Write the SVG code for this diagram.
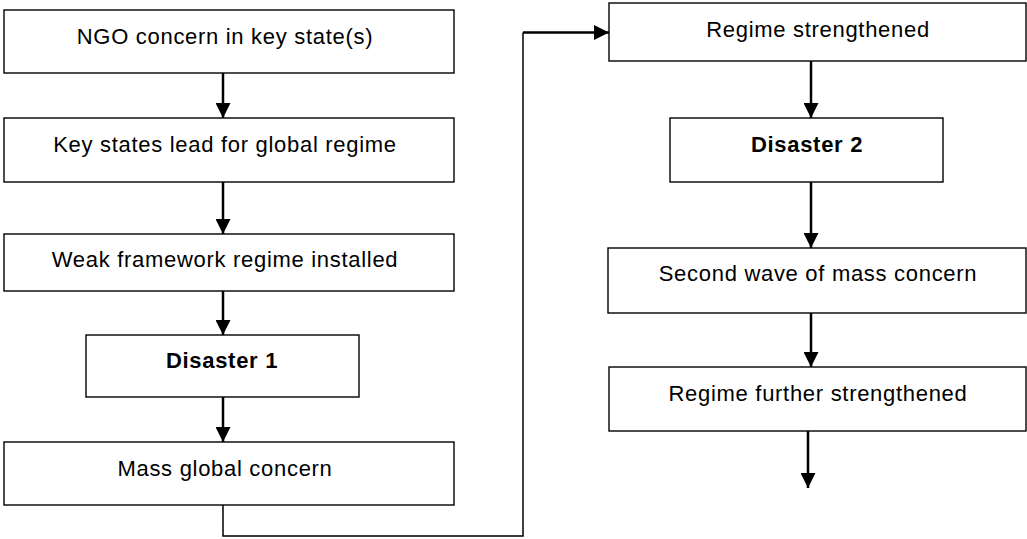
<svg xmlns="http://www.w3.org/2000/svg" width="1027" height="539" viewBox="0 0 1027 539">
<style>
.box{fill:#fff;stroke:#000;stroke-width:1.4}
.t{font-family:"Liberation Sans",Arial,sans-serif;font-size:22px;letter-spacing:0.7px;text-anchor:middle;fill:#000}
.b{font-weight:bold}
.c{fill:none;stroke:#000;stroke-width:2.5}
.thin{fill:none;stroke:#000;stroke-width:1.5}
</style>
<defs>
<marker id="ah" markerUnits="userSpaceOnUse" markerWidth="15" markerHeight="15" refX="15" refY="7.5" orient="auto">
<path d="M0,0 L15,7.5 L0,15 z" fill="#000"/>
</marker>
</defs>
<rect width="1027" height="539" fill="#fff"/>
<g id="n1"><rect class="box" x="4" y="10" width="450" height="63"/><text class="t" x="225" y="44">NGO concern in key state(s)</text></g>
<g id="n2"><rect class="box" x="4" y="118" width="450" height="64"/><text class="t" x="225" y="152">Key states lead for global regime</text></g>
<g id="n3"><rect class="box" x="4" y="234" width="450" height="57"/><text class="t" x="225" y="267">Weak framework regime installed</text></g>
<g id="n4"><rect class="box" x="86" y="335" width="273" height="62"/><text class="t b" x="222" y="368">Disaster 1</text></g>
<g id="n5"><rect class="box" x="4" y="442" width="450" height="63"/><text class="t" x="225" y="476">Mass global concern</text></g>
<g id="n6"><rect class="box" x="609" y="3" width="417" height="58"/><text class="t" x="818" y="37">Regime strengthened</text></g>
<g id="n7"><rect class="box" x="670" y="118" width="273" height="64"/><text class="t b" x="807" y="152">Disaster 2</text></g>
<g id="n8"><rect class="box" x="608" y="248" width="418" height="65"/><text class="t" x="818" y="281">Second wave of mass concern</text></g>
<g id="n9"><rect class="box" x="609" y="367" width="417" height="64"/><text class="t" x="818" y="401">Regime further strengthened</text></g>
<g id="connectors">
<line class="c" x1="223" y1="73" x2="223" y2="118" marker-end="url(#ah)"/>
<line class="c" x1="223" y1="182" x2="223" y2="234" marker-end="url(#ah)"/>
<line class="c" x1="223" y1="291" x2="223" y2="335" marker-end="url(#ah)"/>
<line class="c" x1="223" y1="397" x2="223" y2="442" marker-end="url(#ah)"/>
<polyline class="thin" points="223,505 223,536 523,536 523,32.5"/>
<line class="c" x1="523" y1="32.5" x2="609" y2="32.5" marker-end="url(#ah)"/>
<line class="c" x1="811" y1="61" x2="811" y2="118" marker-end="url(#ah)"/>
<line class="c" x1="811" y1="182" x2="811" y2="248" marker-end="url(#ah)"/>
<line class="c" x1="811" y1="313" x2="811" y2="367" marker-end="url(#ah)"/>
<line class="c" x1="808" y1="431" x2="808" y2="488" marker-end="url(#ah)"/>
</g>
</svg>
